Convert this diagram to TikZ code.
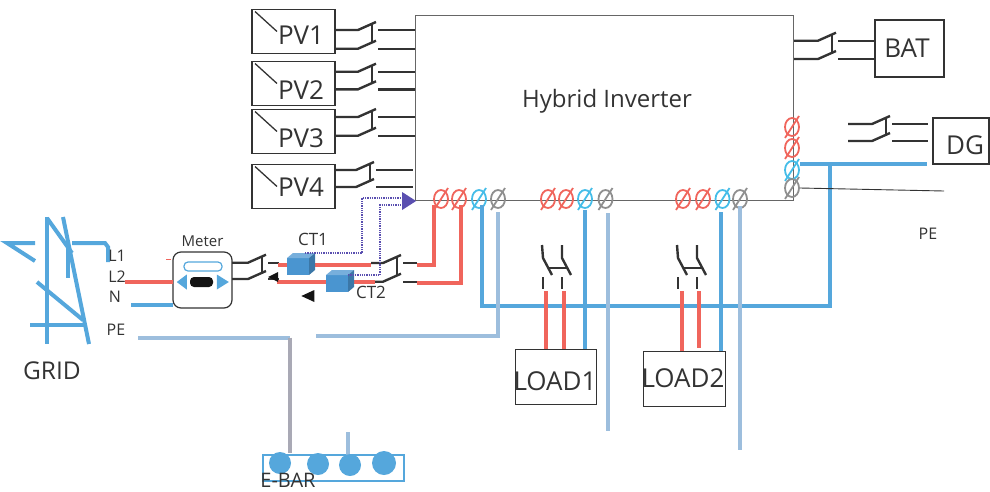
\documentclass[tikz,border=0pt]{standalone}
\usepackage{fontspec}
\setmainfont{Open Sans}
\usetikzlibrary{positioning,shapes.geometric}

\definecolor{wirered}{HTML}{F0655C}
\definecolor{wireblue}{HTML}{55A7DC}
\definecolor{wirepe}{HTML}{9DBEDD}
\definecolor{wiregray}{HTML}{A9A9B5}
\definecolor{termcyan}{HTML}{45BDE8}
\definecolor{termgray}{HTML}{8F8F8F}
\definecolor{ctblue}{HTML}{4A95D0}
\definecolor{ctpurple}{HTML}{5A4FB0}
\definecolor{inktext}{HTML}{333333}

\tikzset{
  txt/.style={inner sep=0pt, text=inktext, font=\fontsize{#1}{#1}\selectfont},
  unitbox/.style={rectangle, draw=inktext, line width=1.2pt, outer sep=0pt, inner sep=0pt},
  pvbox/.style={unitbox, minimum width=83pt, minimum height=44pt},
  loadbox/.style={unitbox, line width=1pt, minimum width=81pt, minimum height=55pt},
  terminal/.style={ellipse, draw=#1, line width=1.8pt, inner sep=0pt, minimum width=14pt, minimum height=18pt,
    append after command={(\tikzlastnode.center) ++(-7,11) edge[draw=#1, line width=1.8pt] ++(14,-22)}},
  wire/.style={line width=4pt, draw=#1},
  swline/.style={line width=2.4pt, draw=inktext},
  ebarball/.style={circle, fill=wireblue, inner sep=0pt, minimum size=#1},
  marker/.style={isosceles triangle, isosceles triangle stretches, fill=#1, inner sep=0pt},
  ctline/.style={densely dotted, line width=1.3pt, draw=ctpurple},
  pics/dpswitch/.style n args={3}{code={
    \coordinate (-a) at (0,0);
    \coordinate (-b) at (0,#1);
    \coordinate (-c) at (#3,0);
    \coordinate (-d) at (#3,#1);
    \draw[swline] (-a) -- (#2,0) -- (#2+18,-8);
    \draw[swline] (-b) -- (#2,#1) -- (#2+18,#1-8);
    \draw[swline] (#2+14,-6) -- (#2+14,#1-6);
    \draw[swline] (#2+20,0) -- (-c);
    \draw[swline] (#2+20,#1) -- (-d);
  }},
  pics/loadswitch/.style={code={
    \draw[swline] (0,0) -- (1,13) -- (10,30);
    \draw[swline] (20,0) -- (20,13) -- (29,30);
    \draw[swline] (6,23) -- (25,23);
    \draw[swline] (1,32) -- (1,44);
    \draw[swline] (20,32) -- (20,44);
  }},
  pics/ctcube/.style={code={
    \fill[ctblue] (0,0) rectangle (22,17);
    \fill[ctblue!75!white] (0,0) -- (6,-5) -- (28,-5) -- (22,0) -- cycle;
    \fill[ctblue!80!black] (22,0) -- (28,-5) -- (28,12) -- (22,17) -- cycle;
    \coordinate (-top) at (18,-5);
    \coordinate (-side) at (22,0);
  }},
}

\begin{document}
\begin{tikzpicture}[x=1pt,y=-1pt]
    \useasboundingbox (0,0) rectangle (990,491);

    %% inverter and sources
    \node[rectangle, draw=inktext!75!white, line width=1pt, minimum width=378pt, minimum height=185pt, outer sep=0pt] (inverter) at (604,107.5) {};
    \node[txt=24] (invtext) at (607,101) {Hybrid Inverter};

    \node[pvbox] (PV1) at (293.5,31.5) {};
    \node[pvbox, below=8pt of PV1] (PV2) {};
    \node[pvbox, below=4pt of PV2] (PV3) {};
    \node[pvbox, below=11pt of PV3] (PV4) {};
    \foreach \pv/\ty in {PV1/35,PV2/90,PV3/138,PV4/187} {
        \node[txt=26] (\pv text) at (301,\ty) {\pv};
        \draw[swline, line width=1.3pt] (\pv.north west) ++(3,2) -- ++(22,20);
    }

    \pic (swPV1) at (336,30) {dpswitch={18.7}{22}{79}};
    \pic (swPV2) at (336,71.7) {dpswitch={17.6}{22}{79}};
    \pic (swPV3) at (336,117) {dpswitch={18.7}{22}{79}};
    \pic (swPV4) at (334,170) {dpswitch={17}{22}{79}};

    \node[unitbox, minimum width=69pt, minimum height=57pt] (BAT) at (909.5,48.5) {};
    \node[txt=26] (battext) at (907,48) {BAT};
    \pic (swBAT) at (794,40.7) {dpswitch={18.3}{24}{80}};

    \node[unitbox, minimum width=56pt, minimum height=46pt] (DG) at (961,141) {};
    \node[txt=26] (dgtext) at (965,145) {DG};
    \pic (swDG) at (848,124) {dpswitch={17}{24}{80}};

    %% terminals
    \foreach \name/\tx/\tcol in {tA1/441/wirered,tA2/459/wirered,tA3/479/termcyan,tA4/498/termgray,
        tB1/548/wirered,tB2/566/wirered,tB3/585/termcyan,tB4/605.5/termgray,
        tC1/683/wirered,tC2/703/wirered,tC3/722.5/termcyan,tC4/740/termgray} {
        \node[terminal=\tcol] (\name) at (\tx,199) {};
    }
    \foreach \name/\ty/\tcol in {tD1/127/wirered,tD2/148/wirered,tD3/170/termcyan,tD4/188/termgray} {
        \node[terminal=\tcol] (\name) at (792,\ty) {};
    }

    %% grid tower
    \draw[wire=wireblue] (47,217) -- (47,344);
    \draw[wire=wireblue] (47,218) -- (72,253);
    \draw[wire=wireblue] (63,217) -- (89,344);
    \draw[wire=wireblue] (68,240) -- (68,278);
    \draw[wire=wireblue] (37,282) -- (83,320);
    \draw[wire=wireblue] (30,325) -- (87,325);
    \draw[wire=wireblue] (35,243) -- (7,243) -- (35,261);
    \draw[wire=wireblue] (72,243) -- (105,243) -- (108,247) -- (108,262);
    \node[txt=24.5] (gridtext) at (52,371) {GRID};
    \node[txt=16] (L1) at (117,256) {L1};
    \node[txt=16] (L2) at (117,277) {L2};
    \node[txt=16] (N) at (115,297) {N};
    \node[txt=16] (PEgrid) at (116,330) {PE};
    \node[txt=16] (PEdg) at (928,234) {PE};

    %% meter
    \node[rectangle, draw=inktext, line width=1.2pt, rounded corners=8pt, minimum width=59pt, minimum height=56pt, inner sep=0pt, outer sep=0pt] (meter) at (202.5,280) {};
    \node[txt=15, above=5pt of meter] (metertext) {Meter};
    \node[rectangle, rounded corners=4pt, draw=wireblue, line width=1.2pt, minimum width=38pt, minimum height=9pt, inner sep=0pt] (meterpill) at (203,266.5) {};
    \node[rectangle, rounded corners=4pt, fill=inktext!40!black, minimum width=23pt, minimum height=10pt, inner sep=0pt] (meterbar) at (201.5,282) {};
    \node[marker=wireblue, shape border rotate=180, minimum width=15pt, minimum height=10pt] (meterleft) at (183,282) {};
    \node[marker=wireblue, minimum width=15pt, minimum height=12pt] (meterright) at (221,282) {};
    \coordinate (tick1) at (166,259);
    \coordinate (tick2) at (171,259);
    \draw[wirered, line width=1pt] (tick1) -- (tick2);

    \pic (swM) at (232,262.7) {dpswitch={16.3}{16}{47}};
    \pic (swA) at (371,263) {dpswitch={18.7}{12}{46}};

    %% wires
    \coordinate (gridL2) at (125,282);
    \coordinate (gridN) at (131,305);
    \draw[wire=wirered] (gridL2) -- (meter.west |- gridL2);
    \draw[wire=wireblue] (gridN) -- (meter.west |- gridN);

    \coordinate (redM1) at (278,265);
    \coordinate (redM2) at (277,282);
    \coordinate (redA1) at (371,265);
    \coordinate (redA2) at (375,282);
    \draw[wire=wirered] (redM1) -- (redA1);
    \draw[wire=wirered] (redM2) -- (redA2);

    \coordinate (inA1) at (417,265);
    \coordinate (inA2) at (417,282.5);
    \coordinate (upA1) at (434,205);
    \coordinate (upA2) at (460.7,205);
    \draw[wire=wirered] (inA1) -| (upA1);
    \draw[wire=wirered] (inA2) -| (upA2);

    \coordinate (neuA) at (481.7,205);
    \coordinate (neuB) at (830,306);
    \coordinate (neuC) at (830,165);
    \coordinate (neuD) at (800,164);
    \coordinate (neuE) at (927,164);
    \draw[wire=wireblue] (neuA) |- (neuB) -- (neuC);
    \draw[wire=wireblue] (neuD) -- (neuE);

    \coordinate (peA) at (498,212);
    \coordinate (peB) at (316,335.5);
    \draw[wire=wirepe] (peA) |- (peB);
    \coordinate (peC) at (138,337.5);
    \coordinate (peD) at (290,337.5);
    \draw[wire=wirepe] (peC) -- (peD);
    \coordinate (peE) at (290,453);
    \draw[wire=wiregray] (peD) -- (peE);

    \coordinate (peF) at (800,188);
    \coordinate (peG) at (944,191);
    \draw[inktext, line width=0.9pt] (peF) -- (peG);

    %% loads
    \node[loadbox] (LOAD1) at (555.5,376.5) {};
    \node[txt=26] (load1text) at (555,381) {LOAD1};
    \node[loadbox, minimum width=82pt] (LOAD2) at (684,378.5) {};
    \node[txt=26] (load2text) at (683,378) {LOAD2};

    \pic (swL1) at (542,245) {loadswitch};
    \pic (swL2) at (677,245) {loadswitch};

    \coordinate (red1a) at (546,291);
    \coordinate (red1b) at (564,291);
    \coordinate (red2a) at (682,291);
    \coordinate (red2b) at (699,291);
    \draw[wire=wirered] (red1a) -- (red1a |- LOAD1.north);
    \draw[wire=wirered] (red1b) -- (red1b |- LOAD1.north);
    \draw[wire=wirered] (red2a) -- (red2a |- LOAD2.north);
    \draw[wire=wirered] (red2b) -- (699,348);

    \coordinate (neu1) at (585,210);
    \coordinate (neu2) at (721,212);
    \draw[wire=wireblue] (neu1) -- (neu1 |- LOAD1.north);
    \draw[wire=wireblue] (neu2) -- (neu2 |- LOAD2.north);

    \coordinate (pe1a) at (607.7,213);
    \coordinate (pe1b) at (607.7,431);
    \coordinate (pe2a) at (740,206);
    \coordinate (pe2b) at (740,450);
    \draw[wire=wirepe] (pe1a) -- (pe1b);
    \draw[wire=wirepe] (pe2a) -- (pe2b);

    %% current transformers
    \pic (CT1) at (287,258) {ctcube};
    \pic (CT2) at (326,275) {ctcube};
    \node[txt=17] (ct1text) at (313,239) {CT1};
    \node[txt=17] (ct2text) at (371,292) {CT2};

    \node[marker=inktext!40!black, shape border rotate=180, minimum width=10pt, minimum height=10pt] (dirA) at (275,277) {};
    \node[marker=inktext!40!black, shape border rotate=180, minimum width=12pt, minimum height=13pt] (dirB) at (310.5,296) {};

    \node[marker=ctpurple, minimum width=18pt, minimum height=14pt] (ctarrow) at (407,201) {};
    \coordinate (bendA) at (362,198);
    \coordinate (bendB) at (380,205);
    \draw[ctline] (CT1-top) -| (bendA) -- (ctarrow.west |- bendA);
    \draw[ctline] (CT2-side) -| (bendB) -- (ctarrow.west |- bendB);

    %% earth bar
    \node[rectangle, draw=wireblue, line width=1.1pt, minimum width=141pt, minimum height=26pt, inner sep=0pt, outer sep=0pt] (ebar) at (333.5,468) {};
    \coordinate (stub) at (348,432);
    \draw[wire=wirepe] (stub) -- (stub |- ebar.north);
    \node[ebarball=22pt] (ball1) at (280,463) {};
    \node[ebarball=22pt] (ball2) at (318,464) {};
    \node[ebarball=22pt] (ball3) at (350,465) {};
    \node[ebarball=24pt] (ball4) at (384,463) {};
    \node[txt=20] (ebartext) at (288,480) {E-BAR};

\end{tikzpicture}
\end{document}
